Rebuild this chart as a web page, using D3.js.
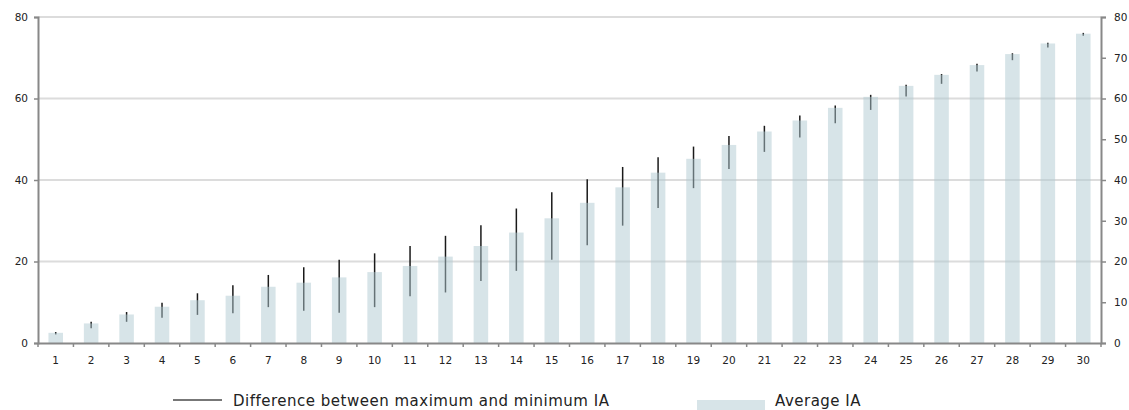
<!DOCTYPE html>
<html>
<head>
<meta charset="utf-8">
<script src="https://cdn.jsdelivr.net/npm/d3@7"></script>
<style>
  html, body { margin: 0; padding: 0; background: #fff; }
  svg text { font-family: "DejaVu Sans", sans-serif; fill: #222; }
</style>
</head>
<body>
<svg id="chart" width="1129" height="410"></svg>
<script>
// Number of items (1..30)
const categories = d3.range(1, 31).map(String);
// Average IA per item
const averageIA = [2.5, 4.8, 7.0, 8.9, 10.5, 11.6, 13.8, 14.8, 16.1, 17.4,
                   18.9, 21.2, 23.8, 27.1, 30.6, 34.4, 38.2, 41.8, 45.2, 48.6,
                   51.9, 54.6, 57.7, 60.4, 63.1, 65.8, 68.2, 70.9, 73.5, 75.9];
// Maximum and minimum IA per item
const maxIA = [2.7, 5.2, 7.6, 9.9, 12.2, 14.2, 16.7, 18.6, 20.4, 22.0,
               23.8, 26.3, 28.9, 33.0, 37.0, 40.2, 43.2, 45.6, 48.2, 50.8,
               53.3, 55.8, 58.3, 60.9, 63.4, 66.0, 68.5, 71.1, 73.7, 76.1];
const minIA = [2.1, 3.6, 5.2, 6.2, 6.9, 7.3, 8.8, 7.9, 7.4, 8.8,
               11.5, 12.4, 15.2, 17.7, 20.4, 24.0, 28.8, 33.1, 38.0, 42.7,
               46.9, 50.4, 53.9, 57.2, 60.5, 63.6, 66.6, 69.4, 72.5, 75.4];
const leftTicks = [0, 20, 40, 60, 80];
const rightTicks = [0, 10, 20, 30, 40, 50, 60, 70, 80];
const legendLabels = ["Difference between maximum and minimum IA", "Average IA"];

const svg = d3.select("#chart");
const x0 = 38, x1 = 1101, yTop = 17, yBottom = 343;

const x = d3.scaleBand().domain(categories).range([x0, x1])
  .paddingInner(0.59).paddingOuter(0.295);
const y = d3.scaleLinear().domain([0, 80]).range([yBottom, yTop]);

const axisColor = "#888";

// horizontal gridlines
svg.append("g").selectAll("line")
  .data(leftTicks.filter(d => d > 0))
  .join("line")
  .attr("x1", x0).attr("x2", x1)
  .attr("y1", d => y(d)).attr("y2", d => y(d))
  .attr("stroke", "#dcdcdc").attr("stroke-width", 2);

// min-max range lines
svg.append("g").selectAll("line")
  .data(categories)
  .join("line")
  .attr("x1", d => x(d) + x.bandwidth() / 2)
  .attr("x2", d => x(d) + x.bandwidth() / 2)
  .attr("y1", (d, i) => y(maxIA[i]))
  .attr("y2", (d, i) => y(minIA[i]))
  .attr("stroke", "#1a1a1a").attr("stroke-width", 1.5);

// average bars (translucent, so the range lines and gridlines show through)
svg.append("g").selectAll("rect")
  .data(categories)
  .join("rect")
  .attr("x", d => x(d))
  .attr("width", x.bandwidth())
  .attr("y", (d, i) => y(averageIA[i]))
  .attr("height", (d, i) => y(0) - y(averageIA[i]))
  .attr("fill", "rgb(175,201,209)")
  .attr("fill-opacity", 0.5);

// left axis
const leftAxis = svg.append("g")
  .attr("transform", `translate(${x0},0)`)
  .call(d3.axisLeft(y).tickValues(leftTicks).tickSize(4).tickPadding(6));
// right axis
const rightAxis = svg.append("g")
  .attr("transform", `translate(${x1},0)`)
  .call(d3.axisRight(y).tickValues(rightTicks).tickSize(5).tickPadding(8));
// bottom axis: ticks sit on category boundaries
const bottomAxis = svg.append("g")
  .attr("transform", `translate(0,${yBottom})`)
  .call(d3.axisBottom(x).tickSize(0).tickPadding(14));
bottomAxis.append("g").selectAll("line")
  .data(categories.concat(["end"]))
  .join("line")
  .attr("x1", (d, i) => x0 + i * x.step())
  .attr("x2", (d, i) => x0 + i * x.step())
  .attr("y1", 0).attr("y2", 4)
  .attr("stroke", axisColor).attr("stroke-width", 1.5);

[leftAxis, rightAxis, bottomAxis].forEach(g => {
  g.select(".domain").attr("stroke", axisColor).attr("stroke-width", 2);
  g.selectAll(".tick line").attr("stroke", axisColor).attr("stroke-width", 1.5);
  g.selectAll(".tick text")
    .style("font-family", "'DejaVu Sans', sans-serif")
    .style("font-size", "10.5px").attr("fill", "#222");
});

// legend
const legend = svg.append("g");
legend.append("line")
  .attr("x1", 173).attr("x2", 222).attr("y1", 400).attr("y2", 400)
  .attr("stroke", "#777").attr("stroke-width", 2);
legend.append("text")
  .attr("x", 233).attr("y", 405.5)
  .style("font-size", "15px").style("letter-spacing", "0.5px")
  .text(legendLabels[0]);
legend.append("rect")
  .attr("x", 697).attr("y", 400).attr("width", 68).attr("height", 10)
  .attr("fill", "rgb(175,201,209)").attr("fill-opacity", 0.5);
legend.append("text")
  .attr("x", 775).attr("y", 405.5)
  .style("font-size", "15px").style("letter-spacing", "0.5px")
  .text(legendLabels[1]);
</script>
</body>
</html>
